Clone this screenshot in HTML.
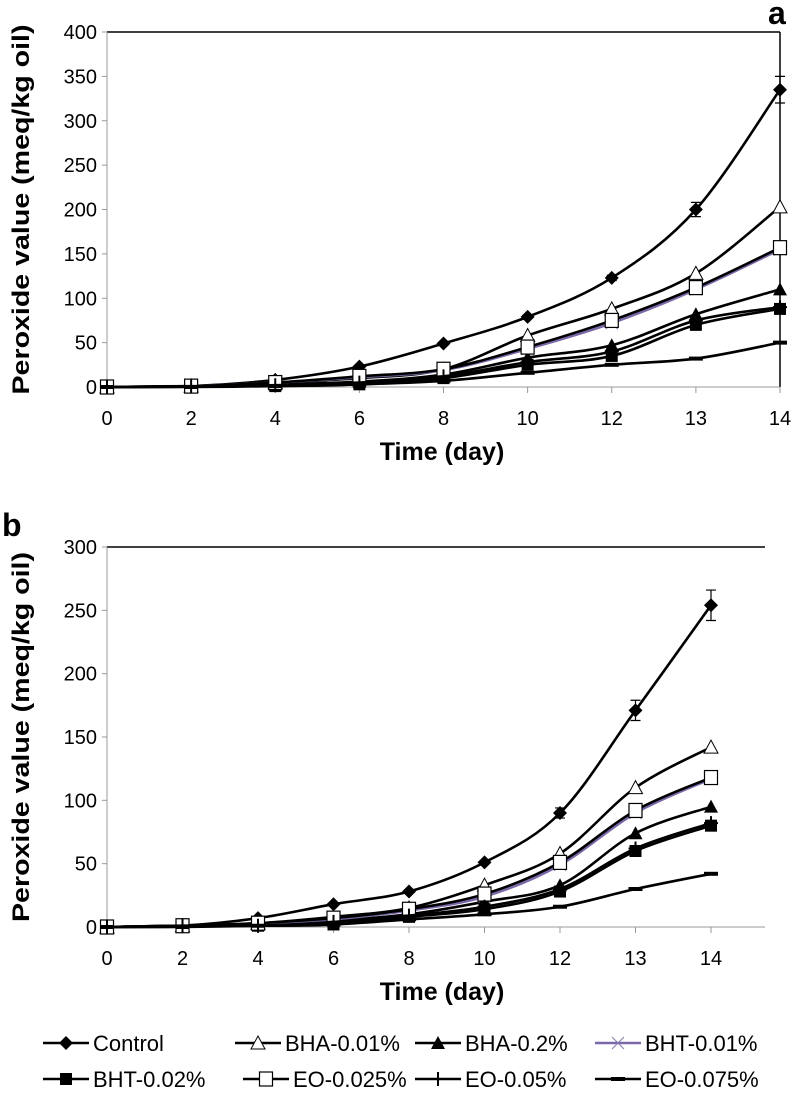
<!DOCTYPE html>
<html><head><meta charset="utf-8"><style>
html,body{margin:0;padding:0;background:#fff}
svg{display:block}
text{font-family:"Liberation Sans",sans-serif;fill:#000}
</style></head><body>
<svg id="chart" width="793" height="1094" viewBox="0 0 793 1094" xmlns="http://www.w3.org/2000/svg"></svg>
<script>
const categories = ["0","2","4","6","8","10","12","13","14"];
const seriesNames = ["Control","BHA-0.01%","BHA-0.2%","BHT-0.01%","BHT-0.02%","EO-0.025%","EO-0.05%","EO-0.075%"];
const aControl = [0,1,8,23,49,79,123,200,335];
const aBha001 = [0,1,5,10,20,58,88,128,203];
const aBha02 = [0,1,3,6,14,33,47,82,110];
const aBht001 = [0,1,5,11,19,43,72,110,155];
const aBht002 = [0,1,1,3,10,25,35,70,88];
const aEo0025 = [0,1,5,12,20,45,75,112,157];
const aEo005 = [0,1,2,5,12,28,40,75,90];
const aEo0075 = [0,0,1,3,7,16,25,32,50];
const bControl = [0,1,7,18,28,51,90,171,254];
const bBha001 = [0,1,3,8,15,33,58,110,142];
const bBha02 = [0,1,2,5,10,20,33,74,95];
const bBht001 = [0,1,2,6,13,24,49,90,117];
const bBht002 = [0,1,1,2,8,14,28,60,80];
const bEo0025 = [0,1,3,7,14,26,51,92,118];
const bEo005 = [0,1,1,4,9,16,30,62,82];
const bEo0075 = [0,0,1,2,6,10,16,30,42];
const aTicks = [0,50,100,150,200,250,300,350,400];
const bTicks = [0,50,100,150,200,250,300];
const aErr = [0,0,0,0,0,0,3,8,15];
const bErr = [0,0,0,0,0,0,4,8,12];

const NS="http://www.w3.org/2000/svg";
const svg=document.getElementById('chart');
function el(tag,attrs,parent,txt){const e=document.createElementNS(NS,tag);for(const k in attrs)e.setAttribute(k,attrs[k]);if(txt!==undefined)e.textContent=txt;(parent||svg).appendChild(e);return e;}

function marker(g,kind,x,y){
  const s=7;
  if(kind==='diamond')return el('polygon',{points:`${x},${y-s} ${x+s},${y} ${x},${y+s} ${x-s},${y}`,fill:'#000'},g);
  if(kind==='tri-open')return el('polygon',{points:`${x},${y-s} ${x+s},${y+s-1} ${x-s},${y+s-1}`,fill:'#fff',stroke:'#000','stroke-width':1},g);
  if(kind==='tri')return el('polygon',{points:`${x},${y-s} ${x+s},${y+s-1} ${x-s},${y+s-1}`,fill:'#000'},g);
  if(kind==='sq')return el('rect',{x:x-6,y:y-6,width:12,height:12,fill:'#000'},g);
  if(kind==='sq-open')return el('rect',{x:x-6.5,y:y-7,width:13,height:14,fill:'#fff',stroke:'#000','stroke-width':1.2},g);
  if(kind==='x')return el('path',{d:`M${x-6},${y-6}L${x+6},${y+6}M${x-6},${y+6}L${x+6},${y-6}`,stroke:'#8878b0','stroke-width':1},g);
  if(kind==='plus')return el('path',{d:`M${x-7},${y}L${x+7},${y}M${x},${y-7}L${x},${y+7}`,stroke:'#000','stroke-width':2},g);
  if(kind==='dash')return el('path',{d:`M${x-7},${y}L${x+7},${y}`,stroke:'#000','stroke-width':4},g);
}
function smooth(pts){
  let d=`M${pts[0][0]},${pts[0][1]}`;
  for(let i=0;i<pts.length-1;i++){
    const p0=pts[Math.max(0,i-1)],p1=pts[i],p2=pts[i+1],p3=pts[Math.min(pts.length-1,i+2)];
    const t=0.17;
    d+=`C${p1[0]+(p2[0]-p0[0])*t},${p1[1]+(p2[1]-p0[1])*t} ${p2[0]-(p3[0]-p1[0])*t},${p2[1]-(p3[1]-p1[1])*t} ${p2[0]},${p2[1]}`;
  }
  return d;
}
function drawChart(cfg){
  const {left,right,top,bottom,max,ticks,series,box,name,xEnd,err}=cfg;
  const g=el('g',{});
  
  
  const xs=i=>left+i*(xEnd-left)/(categories.length-1);
  const ys=v=>bottom-v*(bottom-top)/max;
  el('line',{x1:left,y1:top,x2:right,y2:top,stroke:'#000','stroke-width':1.5},g);
  if(box)el('line',{x1:right,y1:top,x2:right,y2:bottom,stroke:'#000','stroke-width':1.5},g);
  el('line',{x1:left,y1:top,x2:left,y2:bottom,stroke:'#999','stroke-width':1},g);
  el('line',{x1:left,y1:bottom,x2:right,y2:bottom,stroke:'#999','stroke-width':1},g);
  ticks.forEach(t=>{
    el('line',{x1:left-5,y1:ys(t),x2:left,y2:ys(t),stroke:'#999'},g);
    const tx=el('text',{x:left-10,y:ys(t)+7,'text-anchor':'end','font-size':20},g,String(t));
    
    
  });
  categories.forEach((c,i)=>{
    el('line',{x1:xs(i),y1:bottom,x2:xs(i),y2:bottom+6,stroke:'#999'},g);
    const tx=el('text',{x:xs(i),y:bottom+38,'text-anchor':'middle','font-size':20},g,c);
    
    
  });
  series.forEach((s,si)=>{
    const pts=s.vals.map((v,i)=>[xs(i),ys(v)]);
    const sg=el('g',{},g);
    
    
    el('path',{d:smooth(pts),fill:'none',stroke:s.color,'stroke-width':2.6},sg);
    pts.forEach(p=>marker(sg,s.m,p[0],p[1]));
  });
  series[0].vals.forEach((v,i)=>{
    if(!err[i])return;
    const x=xs(i);
    el('path',{d:`M${x},${ys(v+err[i])}L${x},${ys(v-err[i])}M${x-5},${ys(v+err[i])}L${x+5},${ys(v+err[i])}M${x-5},${ys(v-err[i])}L${x+5},${ys(v-err[i])}`,stroke:'#000','stroke-width':1.2,fill:'none'},g);
  });
  const xt=el('text',{x:442,y:bottom+73,'text-anchor':'middle','font-size':25,'font-weight':'bold'},g,'Time (day)');
  
  
  const cy=(top+bottom)/2;
  const yt=el('text',{x:0,y:0,transform:`translate(29,${cy}) rotate(-90)`,'text-anchor':'middle','font-size':24,'font-weight':'bold',textLength:370,lengthAdjust:'spacingAndGlyphs'},g,'Peroxide value (meq/kg oil)');
  
  
}
const kinds=['diamond','tri-open','tri','x','sq','sq-open','plus','dash'];
const colors=['#000','#000','#000','#7a68a8','#000','#000','#000','#000'];
const aArrs=[aControl,aBha001,aBha02,aBht001,aBht002,aEo0025,aEo005,aEo0075];
const bArrs=[bControl,bBha001,bBha02,bBht001,bBht002,bEo0025,bEo005,bEo0075];
function buildSeries(arrs){return [0,1,2,3,4,5,6,7].map(i=>({vals:arrs[i],m:kinds[i],color:colors[i]}));}
drawChart({name:'chart-a',left:107,right:780,xEnd:780,top:32,bottom:387,max:400,ticks:aTicks,series:buildSeries(aArrs),box:true,err:aErr});
drawChart({name:'chart-b',left:107,right:765,xEnd:711,top:547,bottom:927,max:300,ticks:bTicks,series:buildSeries(bArrs),box:false,err:bErr});

const la=el('text',{x:768,y:24,'font-size':32,'font-weight':'bold'},svg,'a');


const lb=el('text',{x:2,y:536,'font-size':32,'font-weight':'bold'},svg,'b');



const legX=[[43,235,415,595],[43,243,415,595]];
const legRows=[1043,1079];
const legOrder=[[0,1,2,3],[4,5,6,7]];
const legend=el('g',{});


legOrder.forEach((row,r)=>row.forEach((si,c)=>{
  const x=legX[r][c],y=legRows[r];
  const lg=el('g',{},legend);
  
  
  el('line',{x1:x,y1:y,x2:x+46,y2:y,stroke:colors[si],'stroke-width':2.6},lg);
  marker(lg,kinds[si],x+23,y);
  el('text',{x:x+50,y:y+8,'font-size':22},lg,seriesNames[si]);
}));
</script>
</body></html>
